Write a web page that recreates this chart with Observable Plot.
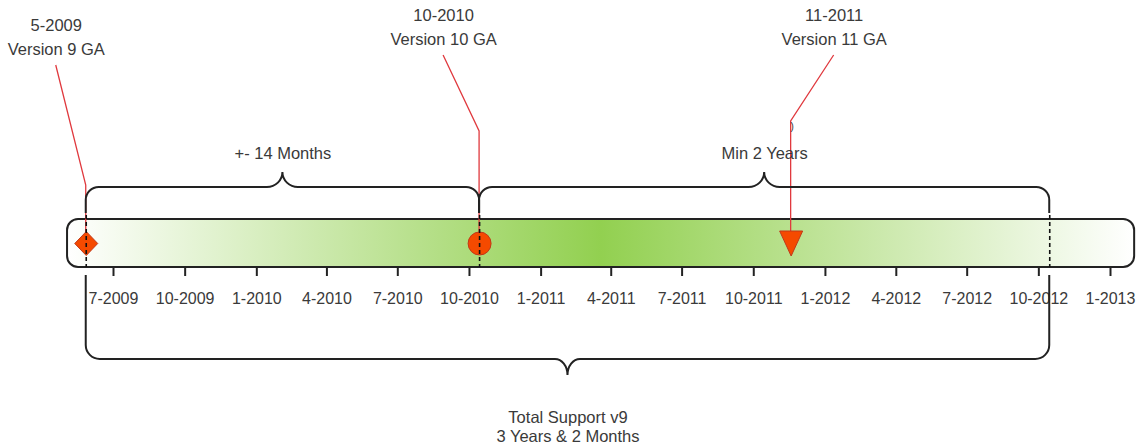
<!DOCTYPE html>
<html><head><meta charset="utf-8">
<script src="https://cdn.jsdelivr.net/npm/d3@7"></script>
<script src="https://cdn.jsdelivr.net/npm/@observablehq/plot@0.6"></script>
<style>html,body{margin:0;padding:0;background:#fff;}#chart{width:1136px;height:448px;overflow:hidden;}</style>
</head><body><div id="chart"></div>
<script>
// ---------------- DATA ----------------
const tickLabels = ["7-2009","10-2009","1-2010","4-2010","7-2010","10-2010","1-2011","4-2011","7-2011","10-2011","1-2012","4-2012","7-2012","10-2012","1-2013"];
const releaseMonths = ["5-2009","10-2010","11-2011"];
const releaseNames = ["Version 9 GA","Version 10 GA","Version 11 GA"];
const releaseDates = ["2009-05-27","2010-10-14","2011-11-18"];
const releaseSymbols = ["diamond","circle","triangle"];
const endOfSupport = "2012-10-15";
const timelineExtent = ["2009-05-03","2013-02-01"];
const spanLabels = ["+- 14 Months","Min 2 Years"];
const totalLabel = ["Total Support v9","3 Years & 2 Months"];

// ---------------- derived tables ----------------
const parseMY = s => { const [m, y] = s.split("-"); return new Date(Date.UTC(+y, +m - 1, 1)); };
const ticks = tickLabels.map(l => ({label: l, date: parseMY(l)}));
const releases = releaseNames.map((n, i) => ({name: n, month: releaseMonths[i], date: new Date(releaseDates[i]), symbol: releaseSymbols[i]}));
const eos = new Date(endOfSupport);
const bar = [{start: new Date(timelineExtent[0]), end: new Date(timelineExtent[1])}];
const mid = (a, b) => new Date((+a + +b) / 2);
const spans = [
  {start: releases[0].date, end: releases[1].date, label: spanLabels[0]},
  {start: releases[1].date, end: eos, label: spanLabels[1]}
];
const total = {start: releases[0].date, end: eos, label: totalLabel.join("\n")};
const dashed = [releases[0].date, releases[1].date, eos];

// ---------------- layout (pixels) ----------------
const FONT = "Liberation Sans, Arial, Helvetica, sans-serif";
const TXT = "#3a3a3a";
const RED = "#e0393e";
const MFILL = "#f54a00", MSTROKE = "#c0391b";
const L = {barTop: 219, barBot: 267, barMid: 243, tickEnd: 276, tickLabel: 298,
  topBase: 187, topEnd: 213, spanLabel: 153,
  botBase: 359, botEnd: 275, totalLabel: 426};
const callout = [
  {dx: -30, cy: 35, top: 65, bend: 185},
  {dx: -36, cy: 25, top: 55, bend: 131},
  {dx: 43, cy: 25, top: 55, bend: 121}
];

const fnScale = s => (typeof s === "function" ? s : s.scale);
const layer = draw => (index, scales) => {
  const g = d3.create("svg:g");
  draw(g, fnScale(scales.x), fnScale(scales.y));
  return g.node();
};

function bracePath(xa, xb, base, end, r1, rx, ry, down) {
  const m = (xa + xb) / 2;
  if (!down) {
    return `M${xa},${end}L${xa},${base + r1}A${r1},${r1} 0 0 1 ${xa + r1},${base}L${m - rx},${base}A${rx},${ry} 0 0 0 ${m},${base - ry}A${rx},${ry} 0 0 0 ${m + rx},${base}L${xb - r1},${base}A${r1},${r1} 0 0 1 ${xb},${base + r1}L${xb},${end}`;
  }
  return `M${xa},${end}L${xa},${base - r1}A${r1},${r1} 0 0 0 ${xa + r1},${base}L${m - rx},${base}A${rx},${ry} 0 0 1 ${m},${base + ry}A${rx},${ry} 0 0 1 ${m + rx},${base}L${xb - r1},${base}A${r1},${r1} 0 0 0 ${xb},${base - r1}L${xb},${end}`;
}

const diamondSym = {draw(c) { c.moveTo(0, -12); c.lineTo(11.5, 0); c.lineTo(0, 12); c.lineTo(-11.5, 0); c.closePath(); }};
const triDownSym = {draw(c) { c.moveTo(-11.5, -12.5); c.lineTo(11.5, -12.5); c.lineTo(0, 12.5); c.closePath(); }};

const gradDefs = layer(g => {
  const lg = g.append("defs").append("linearGradient").attr("id", "barGrad")
    .attr("x1", "0").attr("x2", "1").attr("y1", "0").attr("y2", "0");
  lg.append("stop").attr("offset", "0%").attr("stop-color", "#ffffff");
  lg.append("stop").attr("offset", "50%").attr("stop-color", "#92d050");
  lg.append("stop").attr("offset", "100%").attr("stop-color", "#ffffff");
});

const callouts = layer((g, x, y) => {
  releases.forEach((r, i) => {
    const c = callout[i], xr = x(r.date);
    g.append("path").attr("d", `M${xr + c.dx},${y(c.top)}L${xr},${y(c.bend)}L${xr},${y(232)}`)
      .attr("fill", "none").attr("stroke", RED).attr("stroke-width", 1.3);
  });
});

const braces = layer((g, x, y) => {
  spans.forEach(s => {
    g.append("path").attr("d", bracePath(x(s.start), x(s.end), y(L.topBase), y(L.topEnd), 13, 15.5, 15, false))
      .attr("fill", "none").attr("stroke", "#222").attr("stroke-width", 2);
  });
  g.append("path").attr("d", bracePath(x(total.start), x(total.end), y(L.botBase), y(L.botEnd), 14, 12.5, 16, true))
    .attr("fill", "none").attr("stroke", "#222").attr("stroke-width", 2);
});

const marks = [
  gradDefs,
  Plot.rect(bar, {x1: "start", x2: "end", y1: L.barTop, y2: L.barBot, rx: 11, fill: "url(#barGrad)", stroke: "#222", strokeWidth: 2}),
  Plot.ruleX(ticks, {x: "date", y1: L.barBot, y2: L.tickEnd, stroke: "#222", strokeWidth: 2}),
  Plot.text(ticks, {x: "date", y: L.tickLabel, text: "label", fill: TXT, fontSize: 16, fontFamily: FONT}),
  callouts,
  braces,
  Plot.text(spans, {x: d => mid(d.start, d.end), y: L.spanLabel, text: "label", fill: TXT, fontSize: 16.5, fontFamily: FONT}),
  Plot.text([total], {x: d => mid(d.start, d.end), y: L.totalLabel, text: "label", lineHeight: 1.18, fill: TXT, fontSize: 16.5, fontFamily: FONT}),
  ...releases.map((r, i) => Plot.text([r], {x: "date", y: callout[i].cy, dx: callout[i].dx, text: d => d.month + "\n" + d.name, lineHeight: 1.42, fill: TXT, fontSize: 16.5, fontFamily: FONT})),
  Plot.dot(releases.filter(r => r.symbol === "diamond"), {x: "date", y: L.barMid, r: 10, symbol: diamondSym, fill: MFILL, stroke: MSTROKE, strokeWidth: 1}),
  Plot.dot(releases.filter(r => r.symbol === "circle"), {x: "date", y: L.barMid, r: 11.5, symbol: "circle", fill: MFILL, stroke: MSTROKE, strokeWidth: 1}),
  Plot.dot(releases.filter(r => r.symbol === "triangle"), {x: "date", y: L.barMid, r: 10, symbol: triDownSym, fill: MFILL, stroke: MSTROKE, strokeWidth: 1}),
  Plot.ruleX(dashed, {x: d => d, y1: L.topEnd + 2, y2: L.barBot, stroke: "#111", strokeWidth: 1.6, strokeDasharray: "4,3"}),
  Plot.text([releases[2]], {x: "date", y: 126, dx: 1, text: () => ")", fill: "#333", fontSize: 10, fontFamily: FONT})
];

const chart = Plot.plot({
  width: 1136, height: 448,
  marginTop: 0, marginRight: 0, marginBottom: 0, marginLeft: 0,
  x: {type: "utc", domain: [ticks[0].date, ticks[ticks.length - 1].date], range: [113, 1110], axis: null},
  y: {type: "linear", domain: [0, 448], range: [0, 448], axis: null},
  style: {background: "white", fontFamily: FONT, fontSize: "16px", overflow: "visible"},
  marks
});
document.getElementById("chart").appendChild(chart);
</script>
</body></html>
